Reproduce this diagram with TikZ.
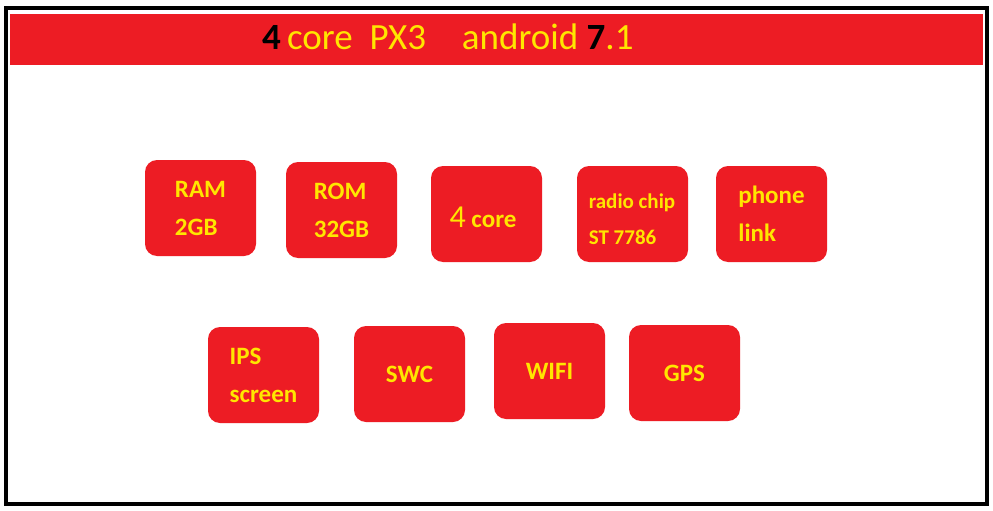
\documentclass[tikz,border=0pt]{standalone}
\usepackage{fontspec}
\setmainfont{Carlito}
\definecolor{bred}{RGB}{237,28,36}
\definecolor{ytxt}{RGB}{255,230,0}
\begin{document}
\begin{tikzpicture}[x=1pt,y=-1pt]
\useasboundingbox (0,0) rectangle (993,511);
\fill[white] (0,0) rectangle (993,511);
\draw[line width=4pt] (6,8) rectangle (987,504);
\fill[bred] (10,14) rectangle (983,65);
\node[anchor=base west,inner sep=0pt,font=\fontsize{37}{38}\selectfont] (title) at (262,50)
  {\textbf{\color{black}4}\,{\color{ytxt}core\ \ PX3\hspace{36pt}android }\textbf{\color{black}7}{\color{ytxt}.1}};
\newcommand\bx[6]{\fill[bred,rounded corners=12pt] (#2,#3) rectangle (#4,#5);
  \node[text=ytxt,font=\bfseries\fontsize{25}{38}\selectfont,align=left] (#1) at ({(#2+#4)/2},{(#3+#5)/2}) {#6};}
\bx{ram}{145}{160}{256}{256}{RAM\\2GB}
\bx{rom}{286}{162}{397}{258}{ROM\\32GB}
\fill[bred,rounded corners=12pt] (431,166) rectangle (542,262);
\node[text=ytxt,font=\bfseries\fontsize{25}{29}\selectfont] (core) at (483,217) {{\mdseries\fontsize{32}{30}\selectfont 4} core};
\fill[bred,rounded corners=12pt] (577,166) rectangle (688,262);
\node[text=ytxt,font=\bfseries\fontsize{21}{36}\selectfont,align=left] (radio) at (632,219) {radio chip\\ST 7786};
\bx{phone}{716}{166}{827}{262}{phone\\link}
\bx{ips}{208}{327}{319}{423}{IPS\\screen}
\bx{swc}{354}{326}{465}{422}{SWC}
\bx{wifi}{494}{323}{605}{419}{WIFI}
\bx{gps}{629}{325}{740}{421}{GPS}
\end{tikzpicture}
\end{document}
